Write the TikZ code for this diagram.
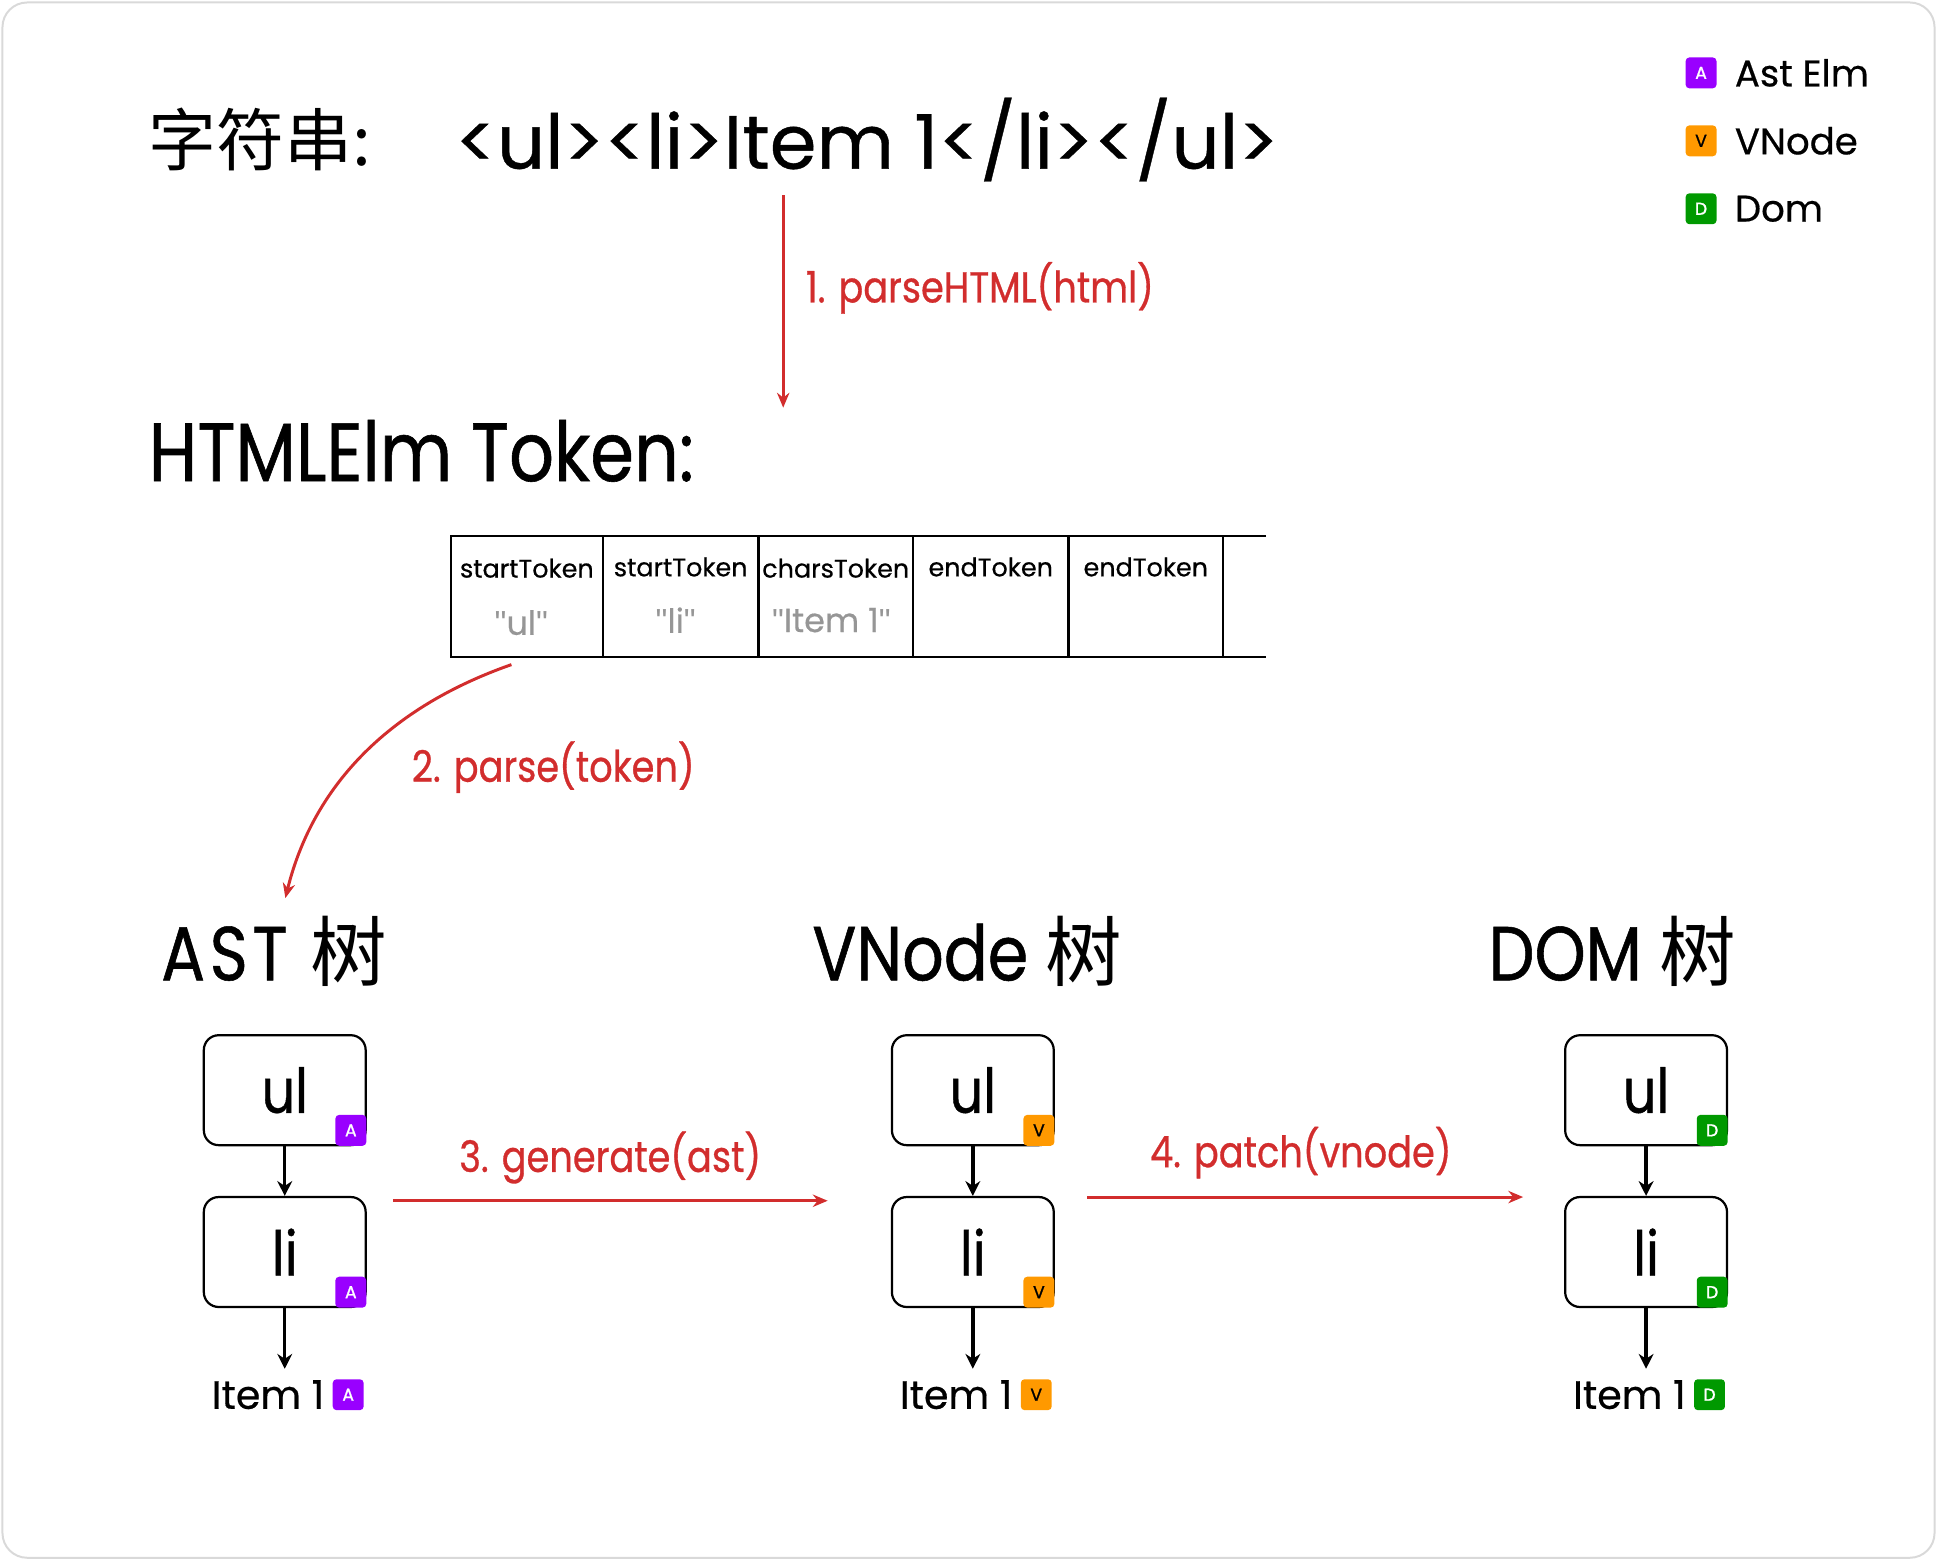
\documentclass[tikz,border=0pt]{standalone}
\usepackage{fontspec}
\setmainfont{Poppins}[FakeBold=0.5]
\newfontfamily\nar{Poppins}[FakeStretch=0.85, FakeBold=0.7]
\newfontfamily\badgefont{Poppins}[FakeBold=1.2]
\newfontfamily\qfont{Liberation Sans}
\newfontfamily\cjk{Noto Sans CJK SC}
\usetikzlibrary{arrows.meta}
\definecolor{myred}{RGB}{210,45,45}
\definecolor{apurple}{RGB}{153,0,255}
\definecolor{vorange}{RGB}{255,153,0}
\definecolor{dgreen}{RGB}{0,153,0}
\definecolor{tokgray}{RGB}{150,150,150}
\newcommand{\fsz}[1]{\fontsize{#1}{#1}\selectfont}
\newcommand{\dq}{{\qfont"}}
\begin{document}
\begin{tikzpicture}[x=0.5pt,y=-0.5pt,
  treebox/.style={draw, line width=0.9pt, rounded corners=6pt, minimum width=65.5pt, minimum height=44.5pt, inner sep=0pt, font=\nar\fsz{25}},
  badge/.style={rounded corners=1.5pt, minimum size=12.5pt, inner sep=0pt, font=\badgefont\fsz{7}, text=white},
  redarrow/.style={draw=myred, line width=1.2pt, -{Stealth[length=6pt,width=5pt]}},
  blackarrow/.style={draw=black, line width=1.4pt, -{Stealth[length=6pt,width=6pt]}},
  redlabel/.style={text=myred, font=\nar\fsz{17.5}},
  title/.style={font=\nar\fsz{31}, inner sep=0pt},
  toktext/.style={font=\fsz{10.3}, inner sep=0pt},
  tokval/.style={font=\fsz{13.5}, text=tokgray, inner sep=0pt},
  itemtext/.style={font=\fsz{16}, inner sep=0pt},
  legtext/.style={font=\fsz{15}, inner sep=0pt, anchor=west}
]
\useasboundingbox (0,0) rectangle (1568,1263.6);
\draw[black!15, line width=0.8pt, rounded corners=10pt] (2,2) rectangle (1566,1261);

% legend
\node[badge, fill=apurple] (la) at (1377,59) {A};
\node[badge, fill=vorange, text=black] (lv) at (1377,114) {V};
\node[badge, fill=dgreen] (ld) at (1377,169) {D};
\node[legtext] (lat) at (1404,59) {Ast Elm};
\node[legtext] (lvt) at (1404,114) {VNode};
\node[legtext] (ldt) at (1404,169) {Dom};

% top string
\node[anchor=west, inner sep=0pt, font=\cjk\fsz{27.5}] (zfc) at (120,113) {字符串:};
\node[anchor=west, inner sep=0pt, font=\fsz{30.5}] (str) at (368,113) {<ul><li>Item 1</li></ul>};

% arrow 1
\coordinate (a1s) at (634,158);
\coordinate (a1e) at (634,330);
\draw[redarrow] (a1s) -- (a1e);
\node[redlabel, anchor=west, inner sep=0pt] (l1) at (652,233) {1. parseHTML(html)};

\node[anchor=west, inner sep=0pt, font=\nar\fsz{33.5}] (htok) at (120,365) {HTMLElm Token:};

% token table
\draw[line width=1pt] (1025,434) -- (365,434) -- (365,532) -- (1025,532);
\foreach \x in {488,614,739,865,990} \draw[line width=1pt] (\x,434) -- (\x,532);
\node[toktext] (t1) at (426.5,460) {startToken};
\node[toktext] (t2) at (551,459) {startToken};
\node[toktext] (t3) at (676.5,460) {charsToken};
\node[toktext] (t4) at (802,459) {endToken};
\node[toktext] (t5) at (927.5,459) {endToken};
\node[tokval] (v1) at (422,504) {\dq ul\dq};
\node[tokval] (v2) at (547,502) {\dq li\dq};
\node[tokval] (v3) at (673,502) {\dq Item 1\dq};

% arrow 2
\coordinate (a2s) at (414,538);
\coordinate (a2e) at (231,727);
\draw[redarrow] (a2s) .. controls (300,578) and (250,650) .. (a2e);
\node[redlabel, anchor=west, inner sep=0pt] (l2) at (333,621) {2. parse(token)};

% tree titles
\node[title] (tast) at (222,770) {\addfontfeatures{LetterSpace=6}AST\hspace{0.3em}{\cjk 树}};
\node[title] (tvn) at (783,770) {VNode {\cjk 树}};
\node[title] (tdom) at (1305,770) {DOM {\cjk 树}};

% AST tree
\node[treebox] (aul) at (230.5,882.5) {ul};
\node[treebox] (ali) at (230.5,1013.5) {li};
\node[badge, fill=apurple, anchor=south east] (aulb) at (aul.south east) {A};
\node[badge, fill=apurple, anchor=south east] (alib) at (ali.south east) {A};
\node[itemtext] (ait) at (217,1129) {Item 1};
\node[badge, fill=apurple, anchor=west] (aitb) at ([xshift=3pt]ait.east) {A};
\draw[blackarrow] (aul.south) -- (ali.north);
\draw[blackarrow] (ali.south) -- (ali.south |- 0,1108);

% VNode tree
\node[treebox] (vul) at (787.5,882.5) {ul};
\node[treebox] (vli) at (787.5,1013.5) {li};
\node[badge, fill=vorange, text=black, anchor=south east] (vulb) at (vul.south east) {V};
\node[badge, fill=vorange, text=black, anchor=south east] (vlib) at (vli.south east) {V};
\node[itemtext] (vit) at (774,1129) {Item 1};
\node[badge, fill=vorange, text=black, anchor=west] (vitb) at ([xshift=3pt]vit.east) {V};
\draw[blackarrow] (vul.south) -- (vli.north);
\draw[blackarrow] (vli.south) -- (vli.south |- 0,1108);

% DOM tree
\node[treebox] (dul) at (1332.5,882.5) {ul};
\node[treebox] (dli) at (1332.5,1013.5) {li};
\node[badge, fill=dgreen, anchor=south east] (dulb) at (dul.south east) {D};
\node[badge, fill=dgreen, anchor=south east] (dlib) at (dli.south east) {D};
\node[itemtext] (dit) at (1319,1129) {Item 1};
\node[badge, fill=dgreen, anchor=west] (ditb) at ([xshift=3pt]dit.east) {D};
\draw[blackarrow] (dul.south) -- (dli.north);
\draw[blackarrow] (dli.south) -- (dli.south |- 0,1108);

% arrows 3,4
\coordinate (a3s) at (318,972);
\coordinate (a3e) at (670,972);
\draw[redarrow] (a3s) -- (a3e);
\node[redlabel] (l3) at (494,937) {3. generate(ast)};
\coordinate (a4s) at (880,969);
\coordinate (a4e) at (1233,969);
\draw[redarrow] (a4s) -- (a4e);
\node[redlabel] (l4) at (1053,933) {4. patch(vnode)};
\end{tikzpicture}
\end{document}
